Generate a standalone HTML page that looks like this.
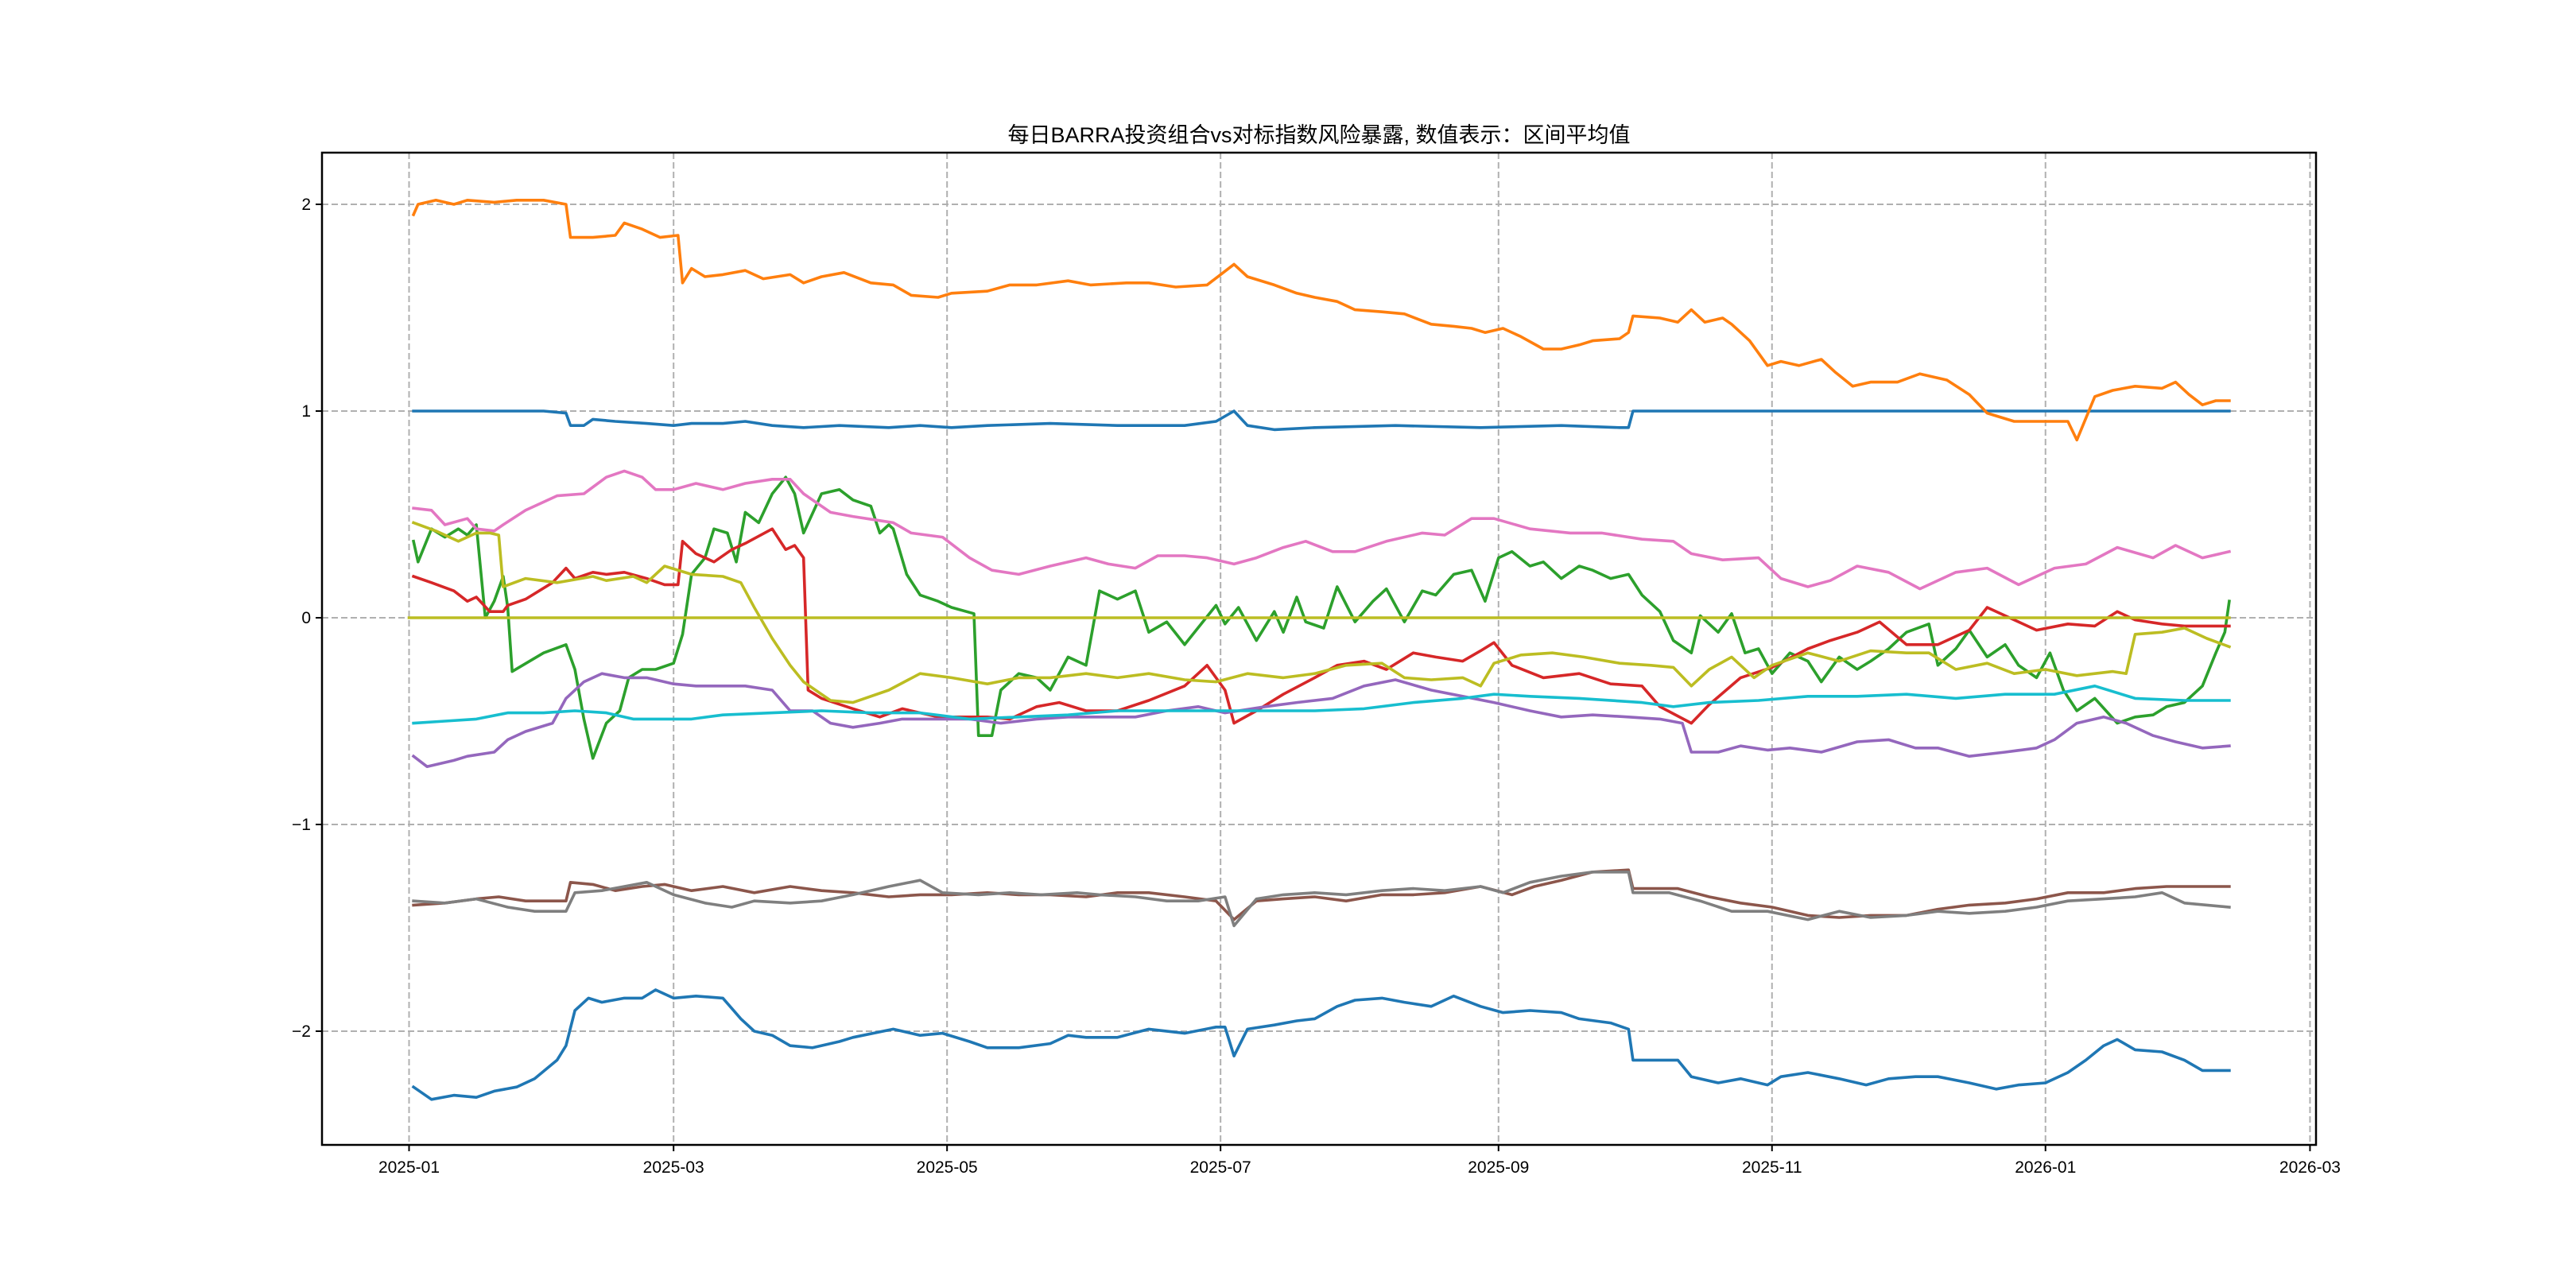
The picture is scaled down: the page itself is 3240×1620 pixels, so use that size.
<!DOCTYPE html>
<html><head><meta charset="utf-8">
<style>
html,body{margin:0;padding:0;background:#fff;}
svg{display:block;font-family:"WenQuanYi Zen Hei","Liberation Sans","Noto Sans CJK SC",sans-serif;}
</style></head>
<body>
<svg id="chart" width="3240" height="1620" viewBox="0 0 3240 1620" xmlns="http://www.w3.org/2000/svg">
<rect width="3240" height="1620" fill="#fff"/>
<text x="1659" y="179" text-anchor="middle" font-size="27" fill="#000">每日BARRA投资组合vs对标指数风险暴露, 数值表示：区间平均值</text>
<g id="grid"></g>
<g id="series"></g>
<g id="axes"></g>
</svg>
<script>
// ---- data (day offsets from 2025-01-01) ----
const xTickDays = [0,59,120,181,243,304,365,424];
const xTickLabels = ["2025-01","2025-03","2025-05","2025-07","2025-09","2025-11","2026-01","2026-03"];
const yTickValues = [-2,-1,0,1,2];
const yTickLabels = ["−2","−1","0","1","2"];

const orangeDays = [1,2,6,10,13,19,24,30,35,36,41,46,48,52,56,60,61,63,66,70,75,79,85,88,92,97,103,108,112,118,121,129,134,140,147,152,160,165,171,178,181,184,187,193,198,202,207,211,217,222,228,233,237,240,244,248,253,257,261,264,270,272,273,279,283,286,289,293,295,299,303,306,310,315,318,322,326,332,337,343,348,352,358,363,370,372,376,380,385,391,394,397,400,403,406];
const orangeVals = [1.95,2.00,2.02,2.00,2.02,2.01,2.02,2.02,2.00,1.84,1.84,1.85,1.91,1.88,1.84,1.85,1.62,1.69,1.65,1.66,1.68,1.64,1.66,1.62,1.65,1.67,1.62,1.61,1.56,1.55,1.57,1.58,1.61,1.61,1.63,1.61,1.62,1.62,1.60,1.61,1.66,1.71,1.65,1.61,1.57,1.55,1.53,1.49,1.48,1.47,1.42,1.41,1.40,1.38,1.40,1.36,1.30,1.30,1.32,1.34,1.35,1.38,1.46,1.45,1.43,1.49,1.43,1.45,1.42,1.34,1.22,1.24,1.22,1.25,1.19,1.12,1.14,1.14,1.18,1.15,1.08,0.99,0.95,0.95,0.95,0.86,1.07,1.10,1.12,1.11,1.14,1.08,1.03,1.05,1.05];

const blueTopDays = [1,30,35,36,39,41,46,53,59,63,70,75,81,88,96,107,114,121,129,143,158,173,180,184,187,193,202,220,239,257,270,272,273,406];
const blueTopVals = [1.0,1.0,0.99,0.93,0.93,0.96,0.95,0.94,0.93,0.94,0.94,0.95,0.93,0.92,0.93,0.92,0.93,0.92,0.93,0.94,0.93,0.93,0.95,1.0,0.93,0.91,0.92,0.93,0.92,0.93,0.92,0.92,1.0,1.0];

const blueLowDays = [1,5,10,15,19,24,28,33,35,37,40,43,48,52,55,59,64,70,74,77,81,85,90,96,99,108,114,119,125,129,136,143,147,151,158,165,173,180,182,184,187,193,198,202,207,211,217,222,228,233,239,244,250,257,261,268,272,273,283,286,292,297,303,306,312,319,325,330,336,341,348,354,359,365,370,374,378,381,385,391,396,400,403,406];
const blueLowVals = [-2.27,-2.33,-2.31,-2.32,-2.29,-2.27,-2.23,-2.14,-2.07,-1.90,-1.84,-1.86,-1.84,-1.84,-1.80,-1.84,-1.83,-1.84,-1.94,-2.0,-2.02,-2.07,-2.08,-2.05,-2.03,-1.99,-2.02,-2.01,-2.05,-2.08,-2.08,-2.06,-2.02,-2.03,-2.03,-1.99,-2.01,-1.98,-1.98,-2.12,-1.99,-1.97,-1.95,-1.94,-1.88,-1.85,-1.84,-1.86,-1.88,-1.83,-1.88,-1.91,-1.90,-1.91,-1.94,-1.96,-1.99,-2.14,-2.14,-2.22,-2.25,-2.23,-2.26,-2.22,-2.20,-2.23,-2.26,-2.23,-2.22,-2.22,-2.25,-2.28,-2.26,-2.25,-2.20,-2.14,-2.07,-2.04,-2.09,-2.10,-2.14,-2.19,-2.19,-2.19];

const pinkDays = [1,5,8,13,15,19,21,26,33,39,44,48,52,55,59,64,70,75,81,85,88,94,99,105,108,112,119,125,130,136,143,151,156,162,167,173,178,184,189,195,200,206,211,218,226,231,237,242,250,259,266,275,282,286,293,301,306,312,317,323,330,337,345,352,359,367,374,381,389,394,400,406];
const pinkVals = [0.53,0.52,0.45,0.48,0.43,0.42,0.45,0.52,0.59,0.60,0.68,0.71,0.68,0.62,0.62,0.65,0.62,0.65,0.67,0.67,0.60,0.51,0.49,0.47,0.46,0.41,0.39,0.29,0.23,0.21,0.25,0.29,0.26,0.24,0.30,0.30,0.29,0.26,0.29,0.34,0.37,0.32,0.32,0.37,0.41,0.40,0.48,0.48,0.43,0.41,0.41,0.38,0.37,0.31,0.28,0.29,0.19,0.15,0.18,0.25,0.22,0.14,0.22,0.24,0.16,0.24,0.26,0.34,0.29,0.35,0.29,0.32];

const oliveDays = [1,6,11,15,18,20,21,26,33,41,44,50,53,57,63,70,74,77,81,85,88,94,99,107,114,121,129,136,143,151,158,165,173,180,187,195,202,209,217,222,228,235,239,242,248,255,262,270,277,282,286,290,295,300,304,312,319,326,334,339,345,352,358,365,372,380,383,385,391,396,401,406];
const oliveVals = [0.46,0.42,0.37,0.41,0.41,0.40,0.15,0.19,0.17,0.20,0.18,0.20,0.17,0.25,0.21,0.20,0.17,0.05,-0.10,-0.23,-0.31,-0.40,-0.41,-0.35,-0.27,-0.29,-0.32,-0.29,-0.29,-0.27,-0.29,-0.27,-0.30,-0.31,-0.27,-0.29,-0.27,-0.23,-0.22,-0.29,-0.30,-0.29,-0.33,-0.22,-0.18,-0.17,-0.19,-0.22,-0.23,-0.24,-0.33,-0.25,-0.19,-0.29,-0.23,-0.17,-0.21,-0.16,-0.17,-0.17,-0.25,-0.22,-0.27,-0.25,-0.28,-0.26,-0.27,-0.08,-0.07,-0.05,-0.10,-0.14];

const zeroDays = [0,406];
const zeroVals = [0,0];

const redDays = [1,5,10,13,15,18,21,22,26,32,35,37,41,44,48,53,57,60,61,64,68,72,75,81,84,86,88,89,92,99,105,110,118,125,129,134,140,145,151,158,165,173,178,182,184,189,195,202,207,213,218,224,229,235,239,242,246,253,261,268,275,279,286,290,297,304,312,317,323,328,334,341,348,352,358,363,370,376,381,385,391,396,406];
const redVals = [0.20,0.17,0.13,0.08,0.10,0.03,0.03,0.06,0.09,0.17,0.24,0.19,0.22,0.21,0.22,0.19,0.16,0.16,0.37,0.31,0.27,0.33,0.36,0.43,0.33,0.35,0.29,-0.35,-0.39,-0.44,-0.48,-0.44,-0.48,-0.48,-0.48,-0.49,-0.43,-0.41,-0.45,-0.45,-0.40,-0.33,-0.23,-0.35,-0.51,-0.45,-0.37,-0.29,-0.23,-0.21,-0.25,-0.17,-0.19,-0.21,-0.16,-0.12,-0.23,-0.29,-0.27,-0.32,-0.33,-0.43,-0.51,-0.42,-0.29,-0.24,-0.15,-0.11,-0.07,-0.02,-0.13,-0.13,-0.06,0.05,-0.01,-0.06,-0.03,-0.04,0.03,-0.01,-0.03,-0.04,-0.04];

const greenDays = [1,2,5,8,11,13,15,17,19,21,22,23,30,35,37,39,41,44,47,49,52,55,59,61,63,66,68,71,73,75,78,81,84,86,88,92,96,99,103,105,107,108,111,114,118,121,126,127,130,132,136,140,143,147,151,154,158,162,165,169,173,180,182,185,189,193,195,198,200,204,207,211,215,218,222,226,229,233,237,240,243,246,250,253,257,261,264,268,272,275,279,282,286,288,292,295,298,301,304,308,312,315,319,323,326,330,334,339,341,345,348,352,356,359,363,366,369,372,376,381,385,389,392,396,400,403,405,406];
const greenVals = [0.37,0.27,0.43,0.39,0.43,0.40,0.45,0.0,0.08,0.20,0.05,-0.26,-0.17,-0.13,-0.25,-0.49,-0.68,-0.51,-0.45,-0.29,-0.25,-0.25,-0.22,-0.08,0.21,0.29,0.43,0.41,0.27,0.51,0.46,0.60,0.68,0.60,0.41,0.60,0.62,0.57,0.54,0.41,0.45,0.43,0.21,0.11,0.08,0.05,0.02,-0.57,-0.57,-0.35,-0.27,-0.29,-0.35,-0.19,-0.23,0.13,0.09,0.13,-0.07,-0.02,-0.13,0.06,-0.03,0.05,-0.11,0.03,-0.07,0.10,-0.02,-0.05,0.15,-0.02,0.08,0.14,-0.02,0.13,0.11,0.21,0.23,0.08,0.29,0.32,0.25,0.27,0.19,0.25,0.23,0.19,0.21,0.11,0.03,-0.11,-0.17,0.01,-0.07,0.02,-0.17,-0.15,-0.27,-0.17,-0.21,-0.31,-0.19,-0.25,-0.21,-0.15,-0.07,-0.03,-0.23,-0.15,-0.06,-0.19,-0.13,-0.23,-0.29,-0.17,-0.35,-0.45,-0.39,-0.51,-0.48,-0.47,-0.43,-0.41,-0.33,-0.17,-0.07,0.08];

const purpleDays = [1,4,10,13,19,22,26,32,35,39,43,48,53,59,64,70,75,81,85,90,94,99,105,110,118,125,132,140,147,154,162,169,176,182,185,191,198,206,213,220,228,235,242,250,257,264,272,279,284,286,292,297,303,308,315,323,330,336,341,348,356,363,367,372,378,383,389,394,400,406];
const purpleVals = [-0.67,-0.72,-0.69,-0.67,-0.65,-0.59,-0.55,-0.51,-0.39,-0.31,-0.27,-0.29,-0.29,-0.32,-0.33,-0.33,-0.33,-0.35,-0.45,-0.45,-0.51,-0.53,-0.51,-0.49,-0.49,-0.49,-0.51,-0.49,-0.48,-0.48,-0.48,-0.45,-0.43,-0.46,-0.45,-0.43,-0.41,-0.39,-0.33,-0.30,-0.35,-0.38,-0.41,-0.45,-0.48,-0.47,-0.48,-0.49,-0.51,-0.65,-0.65,-0.62,-0.64,-0.63,-0.65,-0.60,-0.59,-0.63,-0.63,-0.67,-0.65,-0.63,-0.59,-0.51,-0.48,-0.51,-0.57,-0.60,-0.63,-0.62];

const cyanDays = [1,8,15,22,30,37,44,50,55,63,70,81,92,103,114,125,136,147,158,169,180,191,202,213,224,235,242,250,261,275,282,290,301,312,323,334,345,356,367,376,385,396,406];
const cyanVals = [-0.51,-0.50,-0.49,-0.46,-0.46,-0.45,-0.46,-0.49,-0.49,-0.49,-0.47,-0.46,-0.45,-0.46,-0.46,-0.49,-0.48,-0.47,-0.45,-0.45,-0.45,-0.45,-0.45,-0.44,-0.41,-0.39,-0.37,-0.38,-0.39,-0.41,-0.43,-0.41,-0.40,-0.38,-0.38,-0.37,-0.39,-0.37,-0.37,-0.33,-0.39,-0.40,-0.40];

const brownDays = [1,8,15,20,26,31,35,36,41,46,52,57,63,70,77,85,92,99,107,114,121,129,136,143,151,158,165,173,180,184,189,195,202,209,217,224,231,239,246,251,257,264,272,273,283,290,297,304,312,319,326,334,341,348,356,363,370,378,385,392,400,406];
const brownVals = [-1.39,-1.38,-1.36,-1.35,-1.37,-1.37,-1.37,-1.28,-1.29,-1.32,-1.30,-1.29,-1.32,-1.30,-1.33,-1.30,-1.32,-1.33,-1.35,-1.34,-1.34,-1.33,-1.34,-1.34,-1.35,-1.33,-1.33,-1.35,-1.37,-1.46,-1.37,-1.36,-1.35,-1.37,-1.34,-1.34,-1.33,-1.30,-1.34,-1.30,-1.27,-1.23,-1.22,-1.31,-1.31,-1.35,-1.38,-1.40,-1.44,-1.45,-1.44,-1.44,-1.41,-1.39,-1.38,-1.36,-1.33,-1.33,-1.31,-1.30,-1.30,-1.30];

const grayDays = [1,8,15,22,28,35,37,43,48,53,59,66,72,77,85,92,99,107,114,119,127,134,141,149,154,162,169,176,182,184,189,195,202,209,217,224,231,239,244,250,257,264,272,273,281,288,295,303,312,319,326,334,341,348,356,363,370,378,385,391,396,406];
const grayVals = [-1.37,-1.38,-1.36,-1.40,-1.42,-1.42,-1.33,-1.32,-1.30,-1.28,-1.34,-1.38,-1.40,-1.37,-1.38,-1.37,-1.34,-1.30,-1.27,-1.33,-1.34,-1.33,-1.34,-1.33,-1.34,-1.35,-1.37,-1.37,-1.35,-1.49,-1.36,-1.34,-1.33,-1.34,-1.32,-1.31,-1.32,-1.30,-1.33,-1.28,-1.25,-1.23,-1.23,-1.33,-1.33,-1.37,-1.42,-1.42,-1.46,-1.42,-1.45,-1.44,-1.42,-1.43,-1.42,-1.40,-1.37,-1.36,-1.35,-1.33,-1.38,-1.40];

// ---- layout ----
const PL=405, PR=2913, PT=192, PB=1440;
const X0=514.5, XK=5.639, Y0=777, YK=260;
function xScale(d){return X0 + d*XK;}
function yScale(v){return Y0 - v*YK;}
const NS='http://www.w3.org/2000/svg';
function mk(tag, attrs, parent){const e=document.createElementNS(NS,tag);for(const k in attrs)e.setAttribute(k,attrs[k]);parent.appendChild(e);return e;}

const grid=document.getElementById('grid');
const axes=document.getElementById('axes');
const seriesG=document.getElementById('series');

xTickDays.forEach((d,i)=>{
  const x=xScale(d);
  const g=mk('line',{x1:x,x2:x,y1:PT,y2:PB,stroke:'#b0b0b0','stroke-width':2,'stroke-dasharray':'8,4'},grid);
  
  
  const t=mk('line',{x1:x,x2:x,y1:PB,y2:PB+8,stroke:'#000','stroke-width':2},axes);
  
  
  const l=mk('text',{x:x,y:PB+35,'text-anchor':'middle','font-size':21,fill:'#000'},axes);
  l.textContent=xTickLabels[i];
  
  
});
yTickValues.forEach((v,i)=>{
  const y=yScale(v);
  const g=mk('line',{x1:PL,x2:PR,y1:y,y2:y,stroke:'#b0b0b0','stroke-width':2,'stroke-dasharray':'8,4'},grid);
  
  
  const t=mk('line',{x1:PL-8,x2:PL,y1:y,y2:y,stroke:'#000','stroke-width':2},axes);
  
  
  const l=mk('text',{x:PL-14,y:y+7,'text-anchor':'end','font-size':21,fill:'#000'},axes);
  l.textContent=yTickLabels[i];
  
  
});
const frame=mk('rect',{x:PL,y:PT,width:PR-PL,height:PB-PT,fill:'none',stroke:'#000','stroke-width':2.5},axes);



function drawLine(days, vals, color, name){
  const pts=days.map((d,i)=>xScale(d).toFixed(1)+','+yScale(vals[i]).toFixed(1)).join(' ');
  const p=mk('polyline',{points:pts,fill:'none',stroke:color,'stroke-width':3.6,'stroke-linejoin':'round','stroke-linecap':'square'},seriesG);
  
  
}
drawLine(blueTopDays,blueTopVals,'#1f77b4','series-blue-top');
drawLine(orangeDays,orangeVals,'#ff7f0e','series-orange');
drawLine(greenDays,greenVals,'#2ca02c','series-green');
drawLine(redDays,redVals,'#d62728','series-red');
drawLine(purpleDays,purpleVals,'#9467bd','series-purple');
drawLine(brownDays,brownVals,'#8c564b','series-brown');
drawLine(pinkDays,pinkVals,'#e377c2','series-pink');
drawLine(grayDays,grayVals,'#7f7f7f','series-gray');
drawLine(oliveDays,oliveVals,'#bcbd22','series-olive');
drawLine(cyanDays,cyanVals,'#17becf','series-cyan');
drawLine(blueLowDays,blueLowVals,'#1f77b4','series-blue-bottom');
drawLine(zeroDays,zeroVals,'#bcbd22','series-olive-zero');
</script>
</body></html>
